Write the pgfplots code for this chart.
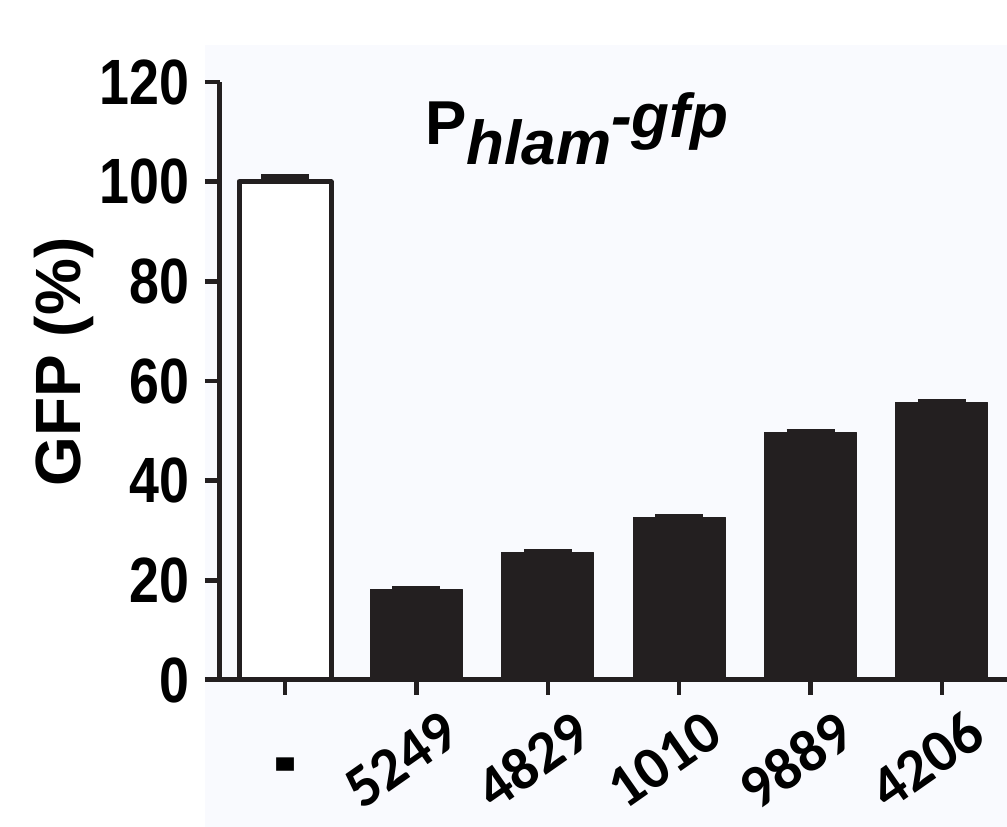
\documentclass[border=0pt]{standalone}
\usepackage{pgfplots}
\pgfplotsset{compat=1.18}
\usepackage{fontspec}
\setmainfont{Liberation Sans}
\newfontfamily\narrowfont[FakeStretch=0.84]{Liberation Sans}
\newfontfamily\carlito{Carlito}
\definecolor{ink}{RGB}{35,31,32}
\definecolor{bg}{RGB}{249,250,254}
\begin{document}
\begin{tikzpicture}[x=1pt,y=1pt]
\path[use as bounding box, fill=white] (0,0) rectangle (1007,827);
\fill[bg] (205,0) rectangle (1007,782);
\begin{axis}[
  at={(220pt,147pt)}, anchor=south west,
  scale only axis, width=787pt, height=598pt,
  xmin=-0.495, xmax=5.495, ymin=0, ymax=120,
  axis x line=bottom, axis y line=left,
  axis line style={-, line width=5pt, color=ink},
  x axis line style={shorten <=-15pt},
  tick align=outside, major tick length=15pt,
  tick style={line width=4.5pt, color=ink},
  ytick={0,20,...,120}, xtick={0,...,5},
  xticklabels={{},5249,4829,1010,9889,4206},
  /pgf/number format/assume math mode=true,
  yticklabel style={font=\narrowfont\bfseries\fontsize{64}{64}\selectfont, text=black, xshift=-12pt},
  xticklabel style={font=\carlito\bfseries\fontsize{60}{60}\selectfont, anchor=center, xshift=-15pt, yshift=-65pt, rotate=35, text=black},
  ylabel={GFP (\%)},
  ylabel style={font=\bfseries\fontsize{64}{64}\selectfont, at={(axis description cs:0,0.5)}, anchor=center, yshift=156pt, xshift=19pt},
  clip=false,
]
\addplot[ybar, bar width=0.70, bar shift=0pt, fill=white, draw=ink, line width=5pt, line join=round,
  error bars/.cd, y dir=plus, y explicit,
  error bar style={line width=5pt, color=ink}, error mark options={rotate=90, line width=6pt, mark size=24pt, color=ink}]
  coordinates {(0,100) +- (0,0.9)};
\addplot[ybar, bar width=0.70, bar shift=0pt, fill=ink, draw=ink, line width=1pt, line join=round,
  error bars/.cd, y dir=plus, y explicit,
  error bar style={line width=4pt, color=ink}, error mark options={rotate=90, line width=4pt, mark size=24pt, color=ink}]
  coordinates {(1,18.1) +- (0,0.3) (2,25.5) +- (0,0.3) (3,32.7) +- (0,0.3) (4,49.6) +- (0,0.3) (5,55.6) +- (0,0.3)};
\node[font=\carlito\bfseries\fontsize{72}{72}\selectfont, anchor=center] at (axis cs:0,0) [yshift=-100pt] {\scalebox{1}[1.8]{-}};
\end{axis}
\node[anchor=base west, inner sep=0pt, font=\bfseries\fontsize{62}{62}\selectfont] at (425,682)
  {P\raisebox{-20pt}{\itshape hlam}\raisebox{7pt}{\itshape -gfp}};
\end{tikzpicture}
\end{document}
